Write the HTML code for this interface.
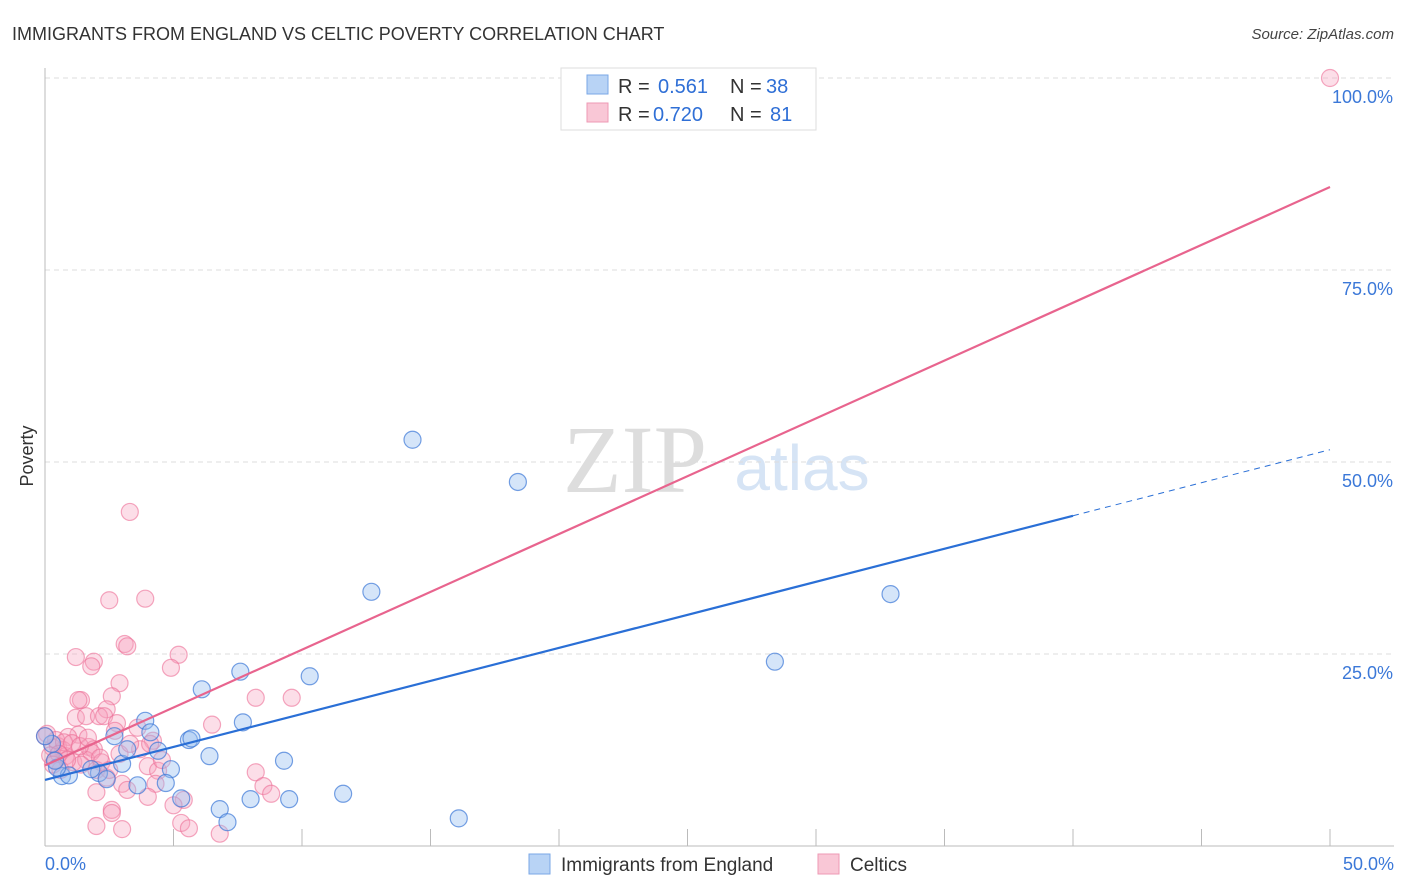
<!DOCTYPE html>
<html><head><meta charset="utf-8"><style>
body{margin:0;background:#fff;font-family:"Liberation Sans",sans-serif}
svg{display:block}
</style></head><body>
<svg id="chart" width="1406" height="892" xmlns="http://www.w3.org/2000/svg">
<text x="12" y="40" font-size="18" fill="#333">IMMIGRANTS FROM ENGLAND VS CELTIC POVERTY CORRELATION CHART</text>
<text x="1394" y="39" font-size="15" fill="#444" font-style="italic" text-anchor="end">Source: ZipAtlas.com</text>
<text x="635" y="492" font-size="96" fill="#ddd" font-family="Liberation Serif,serif" text-anchor="middle">ZIP</text>
<text x="802" y="490" font-size="64" fill="#d6e4f5" text-anchor="middle">atlas</text>
<g id="grid"></g>
<g id="axes"></g>
<g id="points"></g>
<g id="lines"></g>
<text transform="translate(33,456) rotate(-90)" font-size="18" fill="#333" text-anchor="middle">Poverty</text>
<text x="45" y="870" font-size="18" fill="#3b78d8">0.0%</text>
<text x="1394" y="870" font-size="18" fill="#3b78d8" text-anchor="end">50.0%</text>
<g>
<rect x="561" y="68" width="255" height="62" fill="#fff" stroke="#ddd"/>
<rect x="587" y="75" width="21" height="19" fill="#b8d3f5" stroke="#7aa7e6"/>
<rect x="587" y="103" width="21" height="19" fill="#f9c7d6" stroke="#ee9ab4"/>
<text y="93" font-size="20" fill="#333"><tspan x="618">R =</tspan><tspan x="658" fill="#2f6fd6">0.561</tspan><tspan x="730">N =</tspan><tspan x="766" fill="#2f6fd6">38</tspan></text>
<text y="121" font-size="20" fill="#333"><tspan x="618">R =</tspan><tspan x="653" fill="#2f6fd6">0.720</tspan><tspan x="730">N =</tspan><tspan x="770" fill="#2f6fd6">81</tspan></text>
</g>
<g>
<rect x="529" y="854" width="21" height="20" fill="#b8d3f5" stroke="#7aa7e6"/>
<text x="561" y="871" font-size="19" fill="#333">Immigrants from England</text>
<rect x="818" y="854" width="21" height="20" fill="#f9c7d6" stroke="#ee9ab4"/>
<text x="850" y="871" font-size="19" fill="#333">Celtics</text>
</g>
</svg>
<script>
const yTicks=[25,50,75,100];
const yTickLabels=["25.0%","50.0%","75.0%","100.0%"];
const xTicks=[5,10,15,20,25,30,35,40,45,50];
const blueX=[14.3,18.4,12.7,32.9,28.4,10.3,7.6,6.1,3.9,7.7,4.1,5.6,5.7,2.7,4.4,6.4,9.3,4.9,3.0,3.2,2.1,1.8,2.4,3.6,4.7,0.66,0.93,0.47,5.3,8.0,9.5,11.6,6.8,7.1,16.1,0.27,0.0,0.39];
const blueY=[52.9,47.4,33.1,32.8,24.0,22.1,22.7,20.4,16.3,16.1,14.8,13.8,14.0,14.3,12.4,11.7,11.1,10.0,10.7,12.6,9.5,10.0,8.7,7.9,8.2,9.1,9.2,10.2,6.2,6.1,6.1,6.8,4.8,3.1,3.6,13.3,14.3,11.1];
const pinkX=[50,3.3,2.5,3.9,3.1,3.2,1.2,1.9,1.8,5.2,4.9,2.9,2.6,1.4,1.3,2.4,8.2,9.6,1.2,1.6,2.1,2.3,2.8,6.5,3.6,1.3,0.9,4.2,2.9,1.7,1.9,0.5,0.7,0.3,0.8,1.1,1.6,1.8,2.2,4.0,4.4,8.2,0.08,0.2,0.4,0.6,1.4,2.0,2.4,3.0,3.2,4.3,2.5,8.5,8.8,2.0,4.0,5.4,5.0,2.6,2.6,2.0,3.0,5.3,5.6,6.8,0.43,0.74,1.05,1.36,1.67,0.54,0.86,2.14,3.7,4.09,4.55,2.72,3.31,0.0,0.31];
const pinkY=[100,43.5,32.0,32.2,26.3,26.0,24.6,24.0,23.4,24.9,23.2,21.2,19.5,19.0,19.0,17.8,19.3,19.3,16.7,16.9,16.9,16.9,16.0,15.8,15.4,14.5,14.2,13.7,12.0,12.9,12.6,13.0,12.5,12.8,11.7,10.9,11.2,12.2,10.9,10.4,9.8,9.6,14.6,11.8,11.2,9.9,10.6,9.9,8.9,8.1,7.3,8.1,9.9,7.8,6.8,7.0,6.4,6.0,5.3,4.7,4.3,2.6,2.2,3.0,2.3,1.6,13.8,13.5,13.4,13.0,14.1,12.0,11.2,11.5,12.6,13.3,11.2,15.0,13.3,14.3,10.6];
const blueLine=[8.6,43.0,51.6];
const pinkLine=[10.5,85.8];
const X0=45,X1=1330,Y0=846,PPU=7.68;
const sx=v=>X0+(X1-X0)*v/50, sy=v=>Y0-v*PPU;
const NS="http://www.w3.org/2000/svg";
function mk(t,a,p){const e=document.createElementNS(NS,t);for(const k in a)e.setAttribute(k,a[k]);p.appendChild(e);return e;}
const grid=document.getElementById('grid'),axes=document.getElementById('axes');
yTicks.forEach((t,i)=>{
 const l=mk('line',{x1:X0,x2:1394,y1:sy(t),y2:sy(t),stroke:'#ddd','stroke-dasharray':'5,4'},grid);
 
 
 const tx=mk('text',{x:1393,y:sy(t)+25,'font-size':18,fill:'#3b78d8','text-anchor':'end'},axes);
 tx.textContent=yTickLabels[i];
 
 
});
mk('line',{x1:X0,x2:X0,y1:68,y2:Y0,stroke:'#bbb'},axes);
mk('line',{x1:X0,x2:1394,y1:Y0,y2:Y0,stroke:'#bbb'},axes);
xTicks.forEach(t=>{
 const l=mk('line',{x1:sx(t),x2:sx(t),y1:Y0,y2:Y0-17,stroke:'#bbb'},axes);
 
 
});
const pts=document.getElementById('points');
pinkX.forEach((x,i)=>{
 const c=mk('circle',{cx:sx(x),cy:sy(pinkY[i]),r:8.5,fill:'rgba(246,160,188,0.35)',stroke:'rgba(236,110,150,0.6)','stroke-width':1.2},pts);
 
 
});
blueX.forEach((x,i)=>{
 const c=mk('circle',{cx:sx(x),cy:sy(blueY[i]),r:8.5,fill:'rgba(150,190,240,0.4)',stroke:'rgba(60,120,215,0.7)','stroke-width':1.2},pts);
 
 
});
const lines=document.getElementById('lines');
const b1=mk('line',{x1:sx(0),y1:sy(blueLine[0]),x2:sx(40),y2:sy(blueLine[1]),stroke:'#2a6fd6','stroke-width':2.2},lines);


const b2=mk('line',{x1:sx(40),y1:sy(blueLine[1]),x2:sx(50),y2:sy(blueLine[2]),stroke:'#2a6fd6','stroke-width':1,'stroke-dasharray':'6,5'},lines);


const p1=mk('line',{x1:sx(0),y1:sy(pinkLine[0]),x2:sx(50),y2:sy(pinkLine[1]),stroke:'#e8648e','stroke-width':2.2},lines);


</script>
</body></html>
